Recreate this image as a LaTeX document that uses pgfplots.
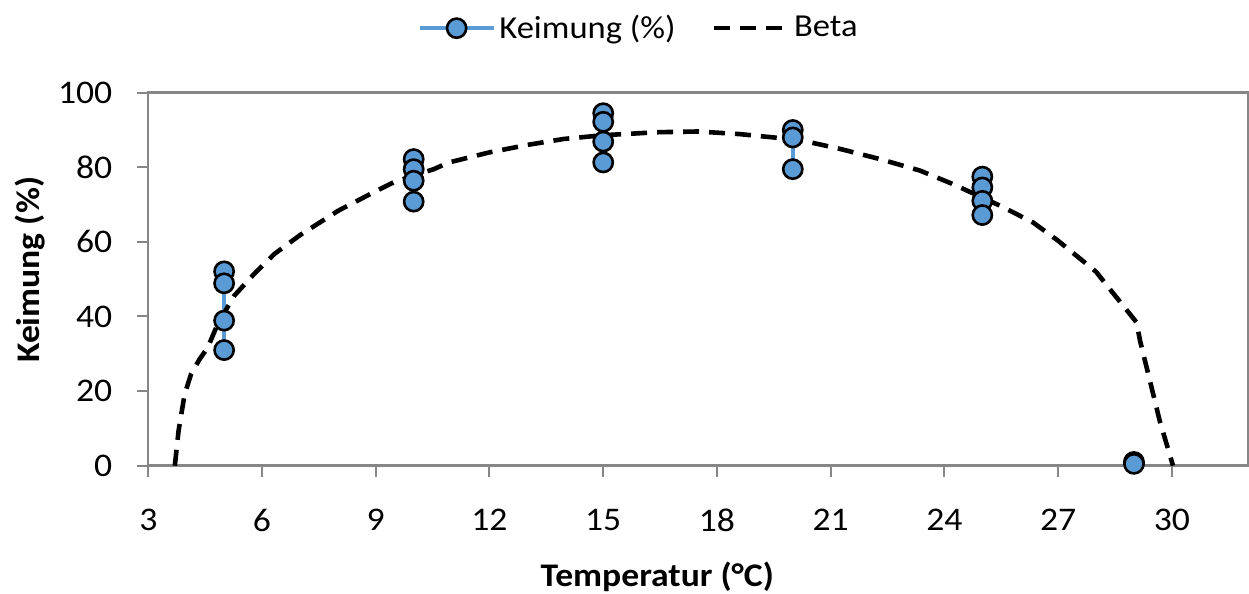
\documentclass[border=0pt]{standalone}
\usepackage{fontspec}
\setmainfont{Carlito}[FakeStretch=1.08]
\usepackage{pgfplots}
\pgfplotsset{compat=1.18}
\definecolor{kblue}{RGB}{91,155,213}
\definecolor{axgray}{RGB}{134,134,134}
\begin{document}
\begin{tikzpicture}
\begin{axis}[
  name=ax,
  scale only axis,
  width=549.7pt, height=186.5pt,
  xmin=3, xmax=32, ymin=0, ymax=100,
  xtick={3,6,...,30},
  ytick={0,20,...,100},
  tick align=outside,
  major tick length=5.5pt,
  axis line style={axgray, line width=1.2pt},
  every tick/.style={axgray, line width=1pt},
  xtick pos=bottom, ytick pos=left,
  /pgf/number format/assume math mode=true,
  tick label style={font=\fontsize{16.5}{18}\selectfont, text=black},
  xticklabel style={yshift=-12.5pt},
  yticklabel style={xshift=-9pt},
  xlabel={\bfseries Temperatur (°C)},
  ylabel={\bfseries Keimung (\%)},
  label style={font=\fontsize{16.5}{18}\selectfont\bfseries},
  xlabel style={at={(rel axis cs:0.463,-0.298)}, anchor=center},
  ylabel style={at={(rel axis cs:-0.1076,0.525)}, anchor=center, rotate=0},
  legend columns=2,
  legend style={draw=none, fill=none, at={(rel axis cs:0.447,1.173)}, anchor=center,
    font=\fontsize{16}{18}\selectfont, /tikz/every even column/.append style={column sep=16pt}},
  unbounded coords=jump,
]
\addplot[kblue, line width=1.8pt, mark=*, mark size=4.8pt,
  mark options={fill=kblue, draw=black, line width=1.3pt, solid},
  legend image code/.code={\draw[mark repeat=2,mark phase=2] plot coordinates {(0cm,0cm)(0.65cm,0cm)(1.3cm,0cm)};}]
  coordinates {
  (5,52.1) (5,48.9) (5,38.9) (5,31.0) (5,nan)
  (10,82.2) (10,79.5) (10,76.4) (10,70.8) (10,nan)
  (15,94.5) (15,92.2) (15,86.9) (15,81.3) (15,nan)
  (20,90.0) (20,88.0) (20,79.5) (20,nan)
  (25,77.5) (25,74.6) (25,71.0) (25,67.2) (25,nan)
  (29,1.0) (29,0.5)
  };
\addlegendentry{Keimung (\%)}
\addplot[black, line width=2.3pt, dash pattern=on 8pt off 5pt, no marks,
  legend image code/.code={\draw (0cm,0cm) -- (1.3cm,0cm);}]
  coordinates {
  (3.70,0) (3.80,9.5) (3.96,19.2) (4.13,24.6) (4.35,28.5) (4.57,31.7) (4.83,38.0)
  (5.27,45.6) (5.8,51.5) (6.33,56.8) (7,61.8) (8,68.3) (9,73.6) (9.48,76.0)
  (10.53,79.5) (10.93,81.3) (12,84.0) (13,86.0) (13.96,87.6) (15,88.6) (15.9,89.1)
  (16.4,89.4) (17.5,89.6) (18.6,88.9) (19.5,88.0) (20.46,86.7) (21.26,84.9)
  (22.3,82.2) (23.36,79.1) (24.2,75.6) (25.47,69.7) (26.34,65.2) (27,60.3)
  (28,52.0) (28.36,47.4) (29.07,38.4) (29.16,33.5) (29.42,22.8) (29.68,12.0) (30.03,0)
  };
\addlegendentry{Beta}
\end{axis}
\pgfresetboundingbox
\path ([shift={(-74.15pt,-64.15pt)}]ax.south west) rectangle ([shift={(550.35pt,232.85pt)}]ax.south west);
\end{tikzpicture}
\end{document}
